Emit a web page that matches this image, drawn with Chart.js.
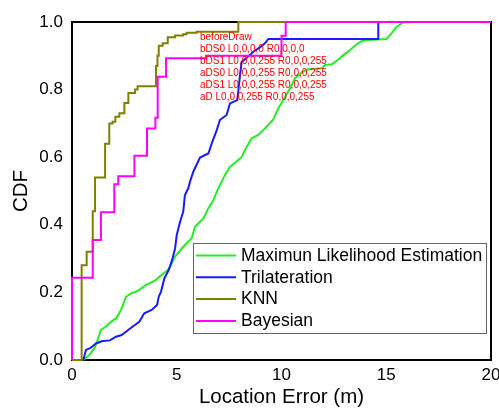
<!DOCTYPE html>
<html><head><meta charset="utf-8">
<script src="https://cdn.jsdelivr.net/npm/chart.js@4"></script>
<style>html,body{margin:0;padding:0;background:#fff}</style>
</head><body>
<canvas id="c" width="499" height="408"></canvas>
<script>
const xTicks = [0, 5, 10, 15, 20];
const yTicks = [0.0, 0.2, 0.4, 0.6, 0.8, 1.0];
const xMinorTicks = [2.5, 7.5, 12.5, 17.5];
const yMinorTicks = [0.1, 0.3, 0.5, 0.7, 0.9];
const seriesNames = ['Maximun Likelihood Estimation', 'Trilateration', 'KNN', 'Bayesian'];
const seriesColors = ['#22ee22', '#1a1aff', '#808000', '#ff00ff'];

const mleX = [0.54,0.83,1.07,1.22,1.38,1.62,1.86,2.10,2.34,2.58,2.82,3.13,3.53,3.93,4.33,4.65,4.92,5.31,5.71,5.87,6.11,6.27,6.51,6.75,6.98,7.30,7.54,7.86,8.10,8.34,8.58,8.89,9.21,9.61,9.85,10.09,10.41,10.64,10.96,11.28,11.92,12.08,12.40,12.71,12.95,13.27,13.59,13.83,14.14,15.02,15.26,15.50,15.82,16.0,20];
const mleY = [0.0,0.015,0.035,0.059,0.089,0.099,0.113,0.123,0.148,0.187,0.197,0.204,0.222,0.234,0.254,0.271,0.306,0.335,0.36,0.394,0.409,0.419,0.449,0.473,0.508,0.547,0.572,0.587,0.601,0.631,0.656,0.666,0.685,0.712,0.745,0.769,0.804,0.833,0.851,0.86,0.863,0.873,0.875,0.889,0.902,0.917,0.934,0.944,0.947,0.950,0.967,0.986,0.999,1.0,1.0];
const triX = [0.54,0.67,0.86,1.15,1.46,1.81,2.10,2.37,2.90,3.21,3.45,3.80,4.06,4.14,4.25,4.41,4.60,4.78,4.92,5.0,5.16,5.31,5.39,5.55,5.63,5.79,6.11,6.51,6.67,6.91,7.06,7.38,7.54,7.89,8.02,8.10,8.34,8.66,8.97,9.21,9.37,14.62,14.62,20];
const triY = [0.0,0.03,0.035,0.049,0.056,0.058,0.069,0.074,0.099,0.113,0.138,0.148,0.163,0.187,0.202,0.242,0.264,0.296,0.33,0.37,0.409,0.439,0.488,0.508,0.527,0.557,0.599,0.611,0.641,0.68,0.71,0.725,0.759,0.769,0.843,0.882,0.894,0.912,0.925,0.937,0.950,0.950,1.0,1.0];
const knnX = [0,0.46,0.70,0.99,1.10,1.58,1.78,1.94,2.07,2.26,2.50,2.69,3.01,3.13,4.01,4.08,4.14,4.33,4.57,4.92,5.31,5.47,5.95,7.94,20];
const knnY = [0,0.28,0.32,0.44,0.54,0.64,0.70,0.705,0.72,0.73,0.76,0.79,0.80,0.81,0.87,0.90,0.93,0.937,0.955,0.96,0.964,0.968,0.971,1.0,1.0];
const bayX = [0,0,0.99,1.38,2.02,2.21,2.98,3.58,3.98,4.09,4.49,6.40,10.0,10.2,20];
const bayY = [0,0.243,0.355,0.437,0.52,0.544,0.604,0.685,0.717,0.838,0.893,0.90,0.959,1.0,1.0];

const toPts = (xs, ys) => xs.map((x, i) => ({x: x, y: ys[i]}));
const FONT = "'Liberation Sans', Arial, sans-serif";
let log = [];
function px(chart, tag) {
  try {
    const a = chart.chartArea;
    const d = chart.ctx.getImageData(Math.round(a.left), 150, 1, 1).data;
    const d2 = chart.ctx.getImageData(Math.round(a.right) - 1, 150, 1, 1).data;
    log.push(tag + ' L' + Array.from(d).join(',') + ' R' + Array.from(d2).join(','));
  } catch (e) { log.push(tag + ' err ' + e); }
}
function drawFrame(chart) {
  const ctx = chart.ctx, a = chart.chartArea;
  ctx.save();
  ctx.strokeStyle = '#000';
  ctx.lineWidth = 2;
  ctx.strokeRect(a.left, a.top, a.right - a.left, a.bottom - a.top);
  ctx.restore();
}
function drawLegend(chart) {
  const ctx = chart.ctx;
  ctx.save();
  const bx = 193, by = 243, bw = 293, bh = 90;
  ctx.fillStyle = '#fff';
  ctx.fillRect(bx, by, bw, bh);
  ctx.strokeStyle = '#666';
  ctx.lineWidth = 1;
  ctx.strokeRect(bx + 0.5, by + 0.5, bw, bh);
  ctx.font = '17.5px ' + FONT;
  ctx.textBaseline = 'middle';
  ctx.textAlign = 'left';
  chart.data.datasets.forEach((ds, i) => {
    const yy = 255.5 + i * 21.8;
    ctx.strokeStyle = ds.borderColor;
    ctx.lineWidth = 2;
    ctx.beginPath(); ctx.moveTo(196, yy); ctx.lineTo(236, yy); ctx.stroke();
    ctx.fillStyle = '#000';
    ctx.fillText(ds.label, 241, yy + 0.5);
  });
  ctx.restore();
}
const deco = {
  id: 'deco',
  beforeDraw(chart) { log.push('beforeDraw'); },
  beforeDatasetsDraw(chart) { px(chart, 'bDS0'); drawFrame(chart); px(chart, 'bDS1'); },
  afterDatasetsDraw(chart) { px(chart, 'aDS0'); drawLegend(chart); px(chart, 'aDS1'); },
  afterDraw(chart) {
    px(chart, 'aD');
    const ctx = chart.ctx; ctx.save(); ctx.fillStyle = 'red'; ctx.font = '10px sans-serif';
    log.forEach((t, i) => ctx.fillText(t, 200, 40 + i * 12));
    ctx.restore();
  }
};
const mk = (i, xs, ys, stepped, order) => ({
  label: seriesNames[i], data: toPts(xs, ys), borderColor: seriesColors[i],
  borderWidth: 2, pointRadius: 0, showLine: true,
  stepped: stepped, tension: 0, clip: 4, order: order
});
new Chart(document.getElementById('c'), {
  type: 'scatter',
  data: { datasets: [
    mk(0, mleX, mleY, false, 4),
    mk(1, triX, triY, false, 3),
    mk(2, knnX, knnY, 'before', 2),
    mk(3, bayX, bayY, 'before', 1)
  ]},
  options: {
    responsive: false, animation: false, devicePixelRatio: 1,
    layout: { padding: { top: 22, right: 8, left: 0, bottom: 0 } },
    plugins: { legend: { display: false }, tooltip: { enabled: false } },
    scales: {
      x: {
        type: 'linear', min: 0, max: 20,
        afterBuildTicks: s => { s.ticks = xTicks.map(v => ({value: v})); },
        afterFit: s => { s.height = 48; s.paddingLeft = 0; s.paddingRight = 0; },
        grid: { display: false, drawTicks: false },
        border: { display: false },
        ticks: { color: '#000', padding: 5, font: { family: FONT, size: 17 }, callback: v => String(v) },
        title: { display: true, text: 'Location Error (m)', color: '#000', padding: 0,
                 font: { family: FONT, size: 20.5, lineHeight: 1 } }
      },
      y: {
        type: 'linear', min: 0, max: 1,
        afterBuildTicks: s => { s.ticks = yTicks.map(v => ({value: v})); },
        afterFit: s => { s.width = 72; s.paddingTop = 0; s.paddingBottom = 0; },
        grid: { display: false, drawTicks: false },
        border: { display: false },
        ticks: { color: '#000', padding: 9, font: { family: FONT, size: 17 }, callback: v => Number(v).toFixed(1) },
        title: { display: true, text: 'CDF', color: '#000', padding: { top: 11.5, bottom: 0 },
                 font: { family: FONT, size: 20.5, lineHeight: 1 } }
      }
    }
  },
  plugins: [deco]
});
</script>
</body></html>
